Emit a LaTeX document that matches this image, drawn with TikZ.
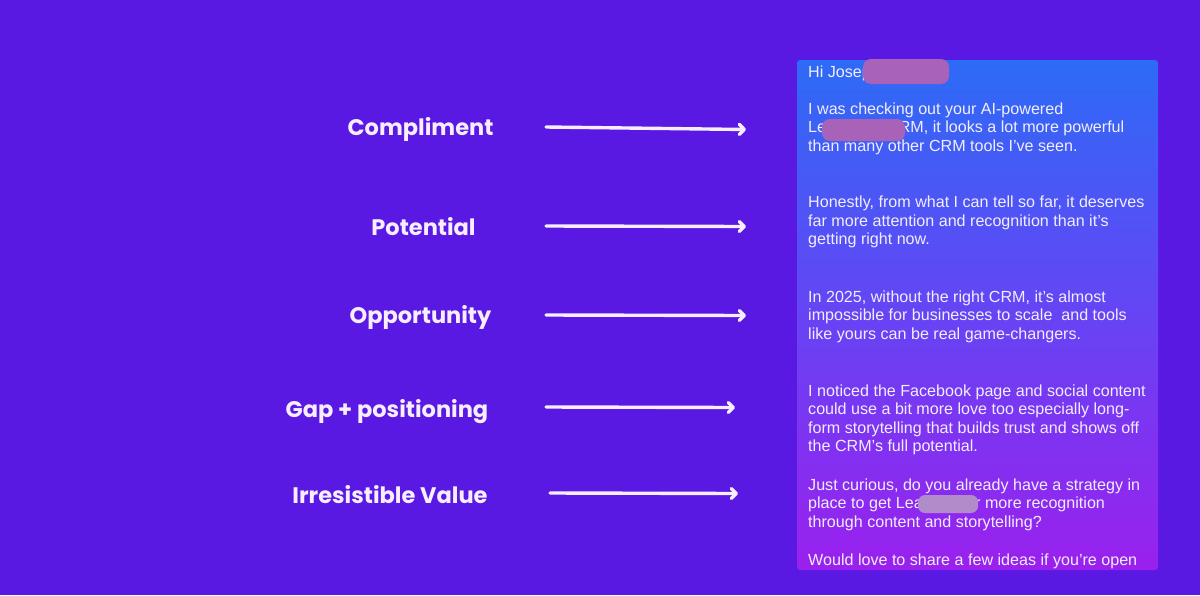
\documentclass[tikz,border=0pt]{standalone}
\usepackage{fontspec}
\setmainfont{Liberation Sans}
\newfontfamily\labelfont{Poppins}
\usetikzlibrary{arrows.meta}
\definecolor{bg}{HTML}{5A18E3}
\definecolor{boxtop}{HTML}{2D6BF6}
\definecolor{boxmid}{HTML}{6644F4}
\definecolor{boxbot}{HTML}{9A20EE}
\definecolor{labtxt}{HTML}{F6EEFF}
\definecolor{msgtxt}{HTML}{F2EEFF}
\definecolor{blobA}{HTML}{A862B8}
\definecolor{blobB}{HTML}{B08CCB}
\tikzset{
  lab/.style={anchor=base, text=labtxt, font=\labelfont\bfseries\fontsize{22.5}{26}\selectfont, inner sep=0pt},
  msg/.style={anchor=base west, text=msgtxt, font=\fontsize{16.1}{18.5}\selectfont, inner sep=0pt},
  arr/.style={draw=labtxt, line width=3.4pt, line cap=round, -{Straight Barb[length=5pt,width=10pt,line cap=round,round]}},
  blob/.style={rounded corners=8pt}
}
\begin{document}
\begin{tikzpicture}[x=1pt,y=-1pt]
\fill[bg] (0,0) rectangle (1200,595);
\useasboundingbox (0,0) rectangle (1200,595);
% message box
\shade[top color=boxtop, bottom color=boxbot, middle color=boxmid, rounded corners=3pt] (797,60) rectangle (1158,570);
% labels
\node[lab] (l1) at (420.5,135) {Compliment};
\node[lab] (l2) at (423.5,235) {Potential};
\node[lab] (l3) at (420.5,323) {Opportunity};
\node[lab] (l4) at (387,417) {Gap + positioning};
\node[lab] (l5) at (390,503) {Irresistible Value};
% arrows
\coordinate (s1) at (546,127); \coordinate (e1) at (746,129.5);
\coordinate (s2) at (546,226); \coordinate (e2) at (746,226.5);
\coordinate (s3) at (546,315); \coordinate (e3) at (746,315.5);
\coordinate (s4) at (546,407); \coordinate (e4) at (735,407.5);
\coordinate (s5) at (550,493); \coordinate (e5) at (738,493.5);
\draw[arr] (s1) -- (e1);
\draw[arr] (s2) -- (e2);
\draw[arr] (s3) -- (e3);
\draw[arr] (s4) -- (e4);
\draw[arr] (s5) -- (e5);
% message text
\node[msg] (m1) at (808,77) {Hi Josep};
\node[msg] (m2) at (808,114) {I was checking out your AI-powered};
\node[msg] (m3a) at (808,132.5) {Le};
\node[msg] (m3b) at (887,132.5) {CRM, it looks a lot more powerful};
\node[msg] (m4) at (808,151) {than many other CRM tools I’ve seen.};
\node[msg] (m5) at (808,207.5) {Honestly, from what I can tell so far, it deserves};
\node[msg] (m6) at (808,226) {far more attention and recognition than it’s};
\node[msg] (m7) at (808,244.5) {getting right now.};
\node[msg] (m8) at (808,302) {In 2025, without the right CRM, it’s almost};
\node[msg] (m9) at (808,320.5) {impossible for businesses to scale\ \ and tools};
\node[msg] (m10) at (808,339) {like yours can be real game-changers.};
\node[msg] (m11) at (808,396) {I noticed the Facebook page and social content};
\node[msg] (m12) at (808,414.5) {could use a bit more love too especially long-};
\node[msg] (m13) at (808,433) {form storytelling that builds trust and shows off};
\node[msg] (m14) at (808,451.5) {the CRM’s full potential.};
\node[msg] (m15) at (808,490) {Just curious, do you already have a strategy in};
\node[msg] (m16a) at (808,508.5) {place to get Lea};
\node[msg] (m16b) at (975,508.5) {r more recognition};
\node[msg] (m17) at (808,527) {through content and storytelling?};
\node[msg] (m18) at (808,565) {Would love to share a few ideas if you're open};
% redaction blobs
\fill[blobA, blob] (863,59) rectangle (949,84);
\fill[blobA, blob] (822,119) rectangle (905,141);
\fill[blobB, rounded corners=7pt] (918,495) rectangle (978,513);
\end{tikzpicture}
\end{document}
